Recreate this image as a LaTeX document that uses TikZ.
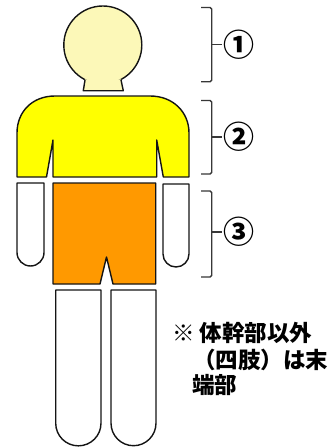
\documentclass[tikz,border=0pt]{standalone}
\usepackage{fontspec}
\newfontfamily\jpfont{Noto Sans CJK JP}
\definecolor{headcol}{RGB}{252,248,184}
\definecolor{shirt}{RGB}{255,255,0}
\definecolor{pants}{RGB}{255,153,0}
\definecolor{edge}{RGB}{20,20,20}
\begin{document}
\begin{tikzpicture}[x=1pt,y=-1pt,
  outline/.style={draw=edge,line width=1.4pt,line join=round},
  bracket/.style={draw=edge!85,line width=1.4pt,rounded corners=1.5pt},
  num/.style={font=\jpfont\bfseries\fontsize{31}{31}\selectfont,inner sep=0pt},
  note/.style={font=\jpfont\bfseries\fontsize{22.5}{25}\selectfont,inner sep=0pt,anchor=west}]
\useasboundingbox (0,0) rectangle (335,447);
\fill[white] (0,0) rectangle (335,447);

% arms
\path[outline,fill=white] (17,183) -- (44,183) -- (44,252.5)
  arc[start angle=0,end angle=-180,x radius=13.5,y radius=-13.5] -- cycle;
\path[outline,fill=white] (163,184) -- (189,184) -- (189,254)
  arc[start angle=0,end angle=-180,x radius=13,y radius=-13] -- cycle;

% legs
\path[outline,fill=white] (55.7,290) -- (101,290) -- (101,423.2)
  arc[start angle=0,end angle=-180,x radius=22.65,y radius=-22.65] -- cycle;
\path[outline,fill=white] (111,290) -- (156,290) -- (156,423.2)
  arc[start angle=0,end angle=-180,x radius=22.5,y radius=-22.5] -- cycle;

% hips with the gap between the legs
\path[outline,fill=pants] (53,183) -- (155.7,183) -- (155.7,284)
  -- (113,284) -- (106.5,257) -- (100,284) -- (53,284) -- cycle;

% chest and sleeves with armpit notches
\path[outline,fill=shirt] (17,177) -- (17,133)
  .. controls (17,112) and (32,96) .. (55,96) -- (150,96)
  .. controls (173,96) and (189,112) .. (189,133) -- (189,177)
  -- (163.3,177) -- (156.7,140) -- (156.7,177)
  -- (53,177) -- (53,140) -- (46.5,177) -- cycle;

% head and neck
\path[outline,fill=headcol] (102.8,45) circle[radius=39];
\fill[headcol] (85,79.4) -- (121,79.4) -- (123.3,90.7) -- (83.3,90.7) -- cycle;
\draw[outline] (85,80) -- (83.3,90.7) -- (123.3,90.7) -- (121,80);

% brackets with labels
\coordinate (b1t) at (201,7.5);   \coordinate (b1b) at (201,81.7);
\coordinate (b2t) at (201,100.5); \coordinate (b2b) at (201,174);
\coordinate (b3t) at (201,191);   \coordinate (b3b) at (201,277);
\draw[bracket] (b1t) -- (211.7,7.5) -- (211.7,81.7) -- (b1b);
\draw[bracket] (211.7,44.5) -- (221.5,44.5);
\draw[bracket] (b2t) -- (211.7,100.5) -- (211.7,174) -- (b2b);
\draw[bracket] (211.7,137) -- (221.5,137);
\draw[bracket] (b3t) -- (211.7,191) -- (211.7,277) -- (b3b);
\draw[bracket] (211.7,232) -- (221.5,232);
\node[num] (n1) at (238.5,44.5) {①};
\node[num] (n2) at (238.5,137) {②};
\node[num] (n3) at (238.5,232) {③};

% note text
\node[note] (t1) at (172,333) {※\hspace{5pt}体幹部以外};
\node[note] (t2) at (193,360) {（四肢）は末};
\node[note] (t3) at (192,385) {端部};
\end{tikzpicture}
\end{document}
